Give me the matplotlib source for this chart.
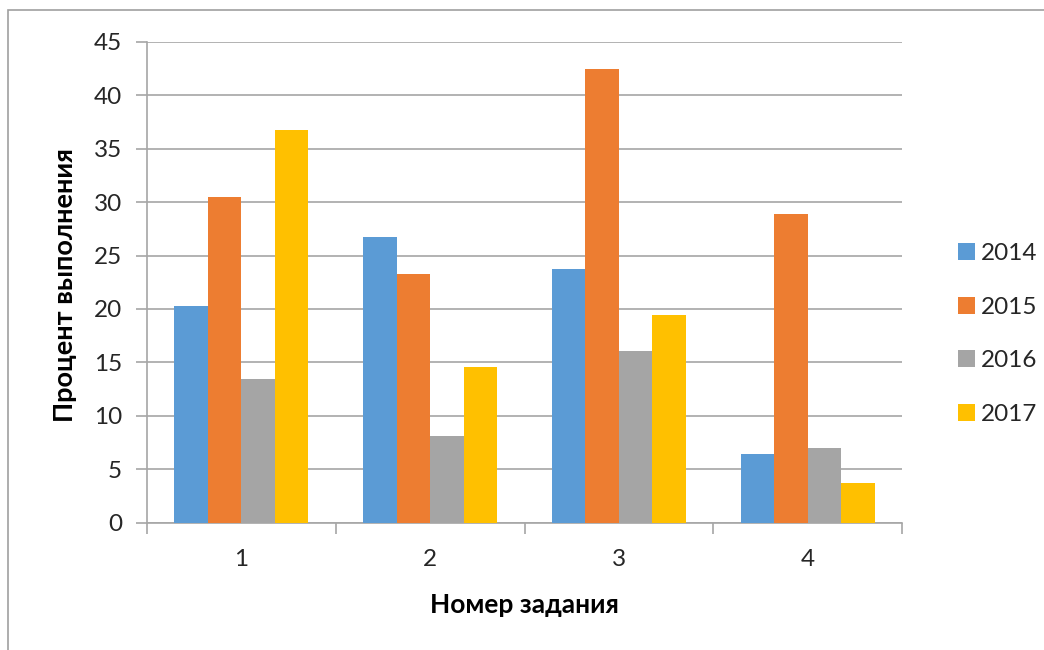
import numpy as np
import matplotlib
matplotlib.use('Agg')
from matplotlib import pyplot as plt
from matplotlib.patches import Rectangle

plt.rcParams['font.family'] = ['Lato', 'DejaVu Sans']

tasks = ['1', '2', '3', '4']
years = ['2014', '2015', '2016', '2017']
v2014 = [20.3, 26.7, 23.7, 6.4]
v2015 = [30.5, 23.3, 42.5, 28.9]
v2016 = [13.4, 8.1, 16.1, 7.0]
v2017 = [36.8, 14.6, 19.4, 3.7]
colors = ['#5b9bd5', '#ed7d31', '#a5a5a5', '#ffc000']

W, H = 1044, 650
fig = plt.figure(figsize=(W / 100, H / 100), dpi=100)

# outer chart frame (right and bottom edges fall outside the picture)
fig.patches.append(Rectangle((8 / W, -0.1), 1.2, 1.1 - 10 / H, transform=fig.transFigure,
                             fill=False, edgecolor='#a0a0a0', linewidth=1.2))

ax = fig.add_axes([147 / W, 1 - 522.5 / H, (902 - 147) / W, (522.5 - 42) / H])

x = np.arange(len(tasks))
bw = 0.71 / 4
for i, (vals, c, y) in enumerate(zip([v2014, v2015, v2016, v2017], colors, years)):
    ax.bar(x + (i - 1.5) * bw, vals, width=bw, color=c, label=y, zorder=3)

ax.set_xlim(-0.5, len(tasks) - 0.5)
ax.set_ylim(0, 45)
ax.set_yticks(np.arange(0, 46, 5))
ax.set_xticks(x)
ax.set_xticklabels(tasks)
ax.set_xticks(np.arange(-0.5, len(tasks), 1), minor=True)
ax.grid(axis='y', color='#a6a6a6', linewidth=1.2, zorder=0)

for s in ['top', 'right']:
    ax.spines[s].set_visible(False)
ax.spines['left'].set_color('#a6a6a6')
ax.spines['bottom'].set_color('#a6a6a6')
ax.spines['left'].set_linewidth(1.2)
ax.spines['bottom'].set_linewidth(1.2)

ax.tick_params(axis='y', which='major', length=8, width=1.2, color='#a6a6a6',
               labelsize=17.5, labelcolor='#262626', pad=10)
ax.tick_params(axis='x', which='major', length=0, labelsize=17.5, labelcolor='#262626', pad=19)
ax.tick_params(axis='x', which='minor', length=8, width=1.2, color='#a6a6a6')

ax.set_ylabel('Процент выполнения', fontsize=19.5, fontweight='bold')
ax.set_xlabel('Номер задания', fontsize=19, fontweight='bold')
ax.yaxis.set_label_coords((65 - 147) / (902 - 147), (522.5 - 285) / (522.5 - 42))
ax.xaxis.set_label_coords((524 - 147) / (902 - 147), -(605 - 522.5) / (522.5 - 42))
ax.xaxis.label.set_va('center')
ax.yaxis.label.set_va('center')

ax.legend(loc='center left', bbox_to_anchor=(1.045, (522.5 - 334) / (522.5 - 42)),
          frameon=False, fontsize=17.5,
          handlelength=0.7, handleheight=0.7, handletextpad=0.25, labelspacing=1.35,
          labelcolor='#262626')

plt.savefig('out.png', dpi=100)
